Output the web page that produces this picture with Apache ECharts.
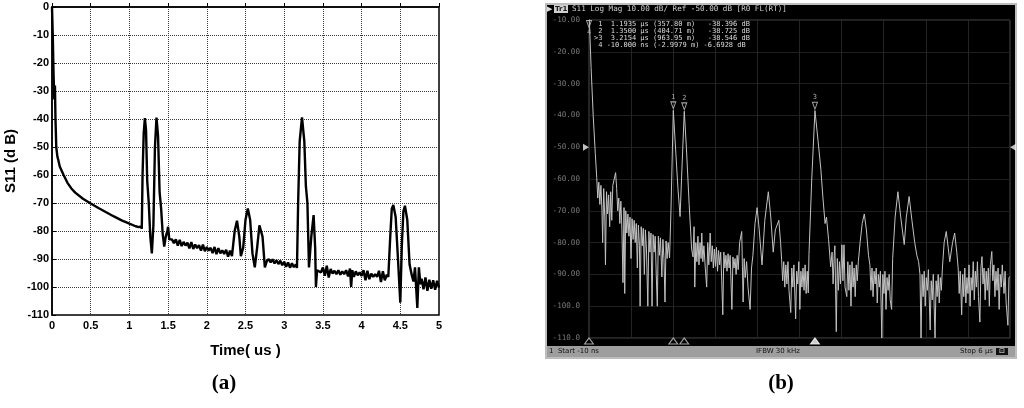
<!DOCTYPE html>
<html>
<head>
<meta charset="utf-8">
<title>S11 time domain</title>
<script src="https://cdn.jsdelivr.net/npm/echarts@6/dist/echarts.min.js"></script>
<style>
  html, body { margin: 0; padding: 0; background: #fff; }
  #chart { width: 1024px; height: 408px; }
</style>
</head>
<body>
<div id="chart"></div>
<script>
// (a) simulated S11, [time us, dB]
var simTrace = [
  [0, 0], [0.01, -10], [0.02, -24], [0.03, -33], [0.038, -28], [0.045, -40], [0.055, -50], [0.07, -53.5],
  [0.08, -54.5], [0.1, -57], [0.15, -60], [0.2, -62.8], [0.25, -64.8], [0.3, -66.3], [0.4, -68.5], [0.5, -70.2],
  [0.6, -71.8], [0.7, -73.3], [0.8, -74.8], [0.9, -76.2], [1.0, -77.4], [1.08, -78.3], [1.12, -78.6], [1.15, -78.4],
  [1.16, -79.2], [1.17, -60], [1.185, -45], [1.2, -39.7], [1.215, -44], [1.23, -62], [1.25, -70], [1.27, -82],
  [1.29, -88], [1.31, -78], [1.33, -50], [1.35, -39.5], [1.37, -46], [1.39, -66], [1.41, -72], [1.43, -81],
  [1.45, -85.6], [1.47, -82], [1.49, -80], [1.5, -78.5], [1.515, -83], [1.53, -83.5],
  [1.55, -83.0], [1.575, -84.4], [1.6, -83.0], [1.625, -85.2], [1.65, -83.2], [1.675, -85.4], [1.7, -83.9],
  [1.725, -85.2], [1.75, -84.2], [1.775, -86.2], [1.8, -84.0], [1.825, -86.4], [1.85, -84.8], [1.875, -86.1],
  [1.9, -85.1], [1.925, -87.0], [1.95, -84.9], [1.975, -87.2], [2.0, -85.7], [2.025, -87.0], [2.05, -86.0],
  [2.075, -87.9], [2.1, -85.7], [2.125, -88.3], [2.15, -86.1], [2.175, -88.0], [2.2, -86.9], [2.225, -88.2],
  [2.25, -86.7], [2.275, -89.2], [2.3, -87.0], [2.325, -89.0], [2.345, -88.4],
  [2.36, -80], [2.39, -76.3], [2.42, -82], [2.44, -89], [2.47, -86], [2.5, -76], [2.53, -72], [2.56, -76],
  [2.59, -88], [2.62, -93], [2.65, -86], [2.68, -78], [2.7, -77.3], [2.72, -82], [2.75, -93], [2.775, -90.8],
  [2.8, -90.0], [2.825, -91.2], [2.85, -90.1], [2.875, -91.6], [2.9, -90.5], [2.925, -91.8], [2.95, -90.6],
  [2.975, -92.2], [3.0, -91.0], [3.025, -92.8], [3.05, -91.2], [3.075, -93.1], [3.1, -91.5], [3.125, -92.9],
  [3.15, -92.0], [3.165, -93.2],
  [3.18, -70], [3.2, -48], [3.23, -39.4], [3.26, -48], [3.28, -64], [3.3, -70], [3.32, -93], [3.35, -82],
  [3.38, -74.3], [3.4, -86], [3.41, -100], [3.425, -94],
  [3.45, -93.6], [3.475, -94.8], [3.5, -93.0], [3.525, -96.0], [3.55, -92.4], [3.575, -96.6], [3.6, -93.6],
  [3.625, -95.2], [3.65, -94.2], [3.675, -95.4], [3.7, -94.0], [3.725, -95.6], [3.75, -94.4], [3.775, -95.4],
  [3.8, -94.0], [3.825, -96.2], [3.85, -93.4], [3.865, -100.0], [3.88, -94.0], [3.9, -96.4], [3.925, -94.4],
  [3.95, -95.8], [3.975, -94.8], [4.0, -96.0], [4.025, -94.0], [4.05, -97.6], [4.075, -94.2], [4.1, -97.2],
  [4.125, -95.2], [4.15, -96.4], [4.175, -95.4], [4.2, -96.4], [4.225, -94.2], [4.25, -98.2], [4.275, -94.4],
  [4.3, -97.6], [4.325, -95.6], [4.345, -96.4],
  [4.37, -82], [4.39, -72], [4.41, -70.7], [4.44, -75], [4.47, -90], [4.5, -105.6], [4.52, -85], [4.54, -73],
  [4.56, -71], [4.59, -76], [4.62, -92], [4.65, -96], [4.67, -98], [4.69, -93], [4.72, -107.5], [4.74, -93],
  [4.76, -99], [4.775, -97.0], [4.8, -100.8], [4.825, -96.6], [4.85, -101.4], [4.875, -97.4], [4.9, -100.6],
  [4.925, -97.6], [4.95, -101.0], [4.975, -97.8], [5.0, -100.2]
];

// (b) measured trace, [time us, dB]
var meaTrace = [
  [-0.01, -6.7], [0.02, -25], [0.05, -40], [0.08, -52], [0.1, -59.5],
  [0.115, -66], [0.13, -61], [0.145, -68], [0.16, -62], [0.175, -70], [0.185, -80], [0.2, -63], [0.215, -72],
  [0.225, -87], [0.24, -64], [0.255, -71], [0.27, -65], [0.285, -75], [0.3, -64], [0.315, -73], [0.33, -62],
  [0.35, -60], [0.37, -58], [0.385, -63], [0.4, -70], [0.415, -66], [0.43, -74], [0.445, -67], [0.46, -76],
  [0.475, -92.6], [0.49, -69], [0.5, -96], [0.515, -70], [0.53, -77], [0.545, -71], [0.56, -78], [0.575, -72],
  [0.59, -85], [0.605, -72.5], [0.62, -79], [0.635, -73], [0.65, -80], [0.665, -74], [0.68, -88], [0.695, -74.5],
  [0.71, -81], [0.72, -100], [0.735, -75], [0.75, -81], [0.765, -75.5], [0.78, -90], [0.795, -76], [0.81, -82],
  [0.83, -100], [0.845, -76.5], [0.86, -83], [0.875, -77], [0.89, -100], [0.905, -77.5], [0.92, -83], [0.935, -78],
  [0.95, -90], [0.965, -100], [0.98, -78], [0.995, -84], [1.01, -78.5], [1.03, -90.8], [1.045, -79], [1.06, -85],
  [1.075, -98.7], [1.09, -79.5], [1.105, -85], [1.12, -80], [1.14, -84.8],
  [1.16, -70], [1.1935, -38.4], [1.23, -52], [1.26, -63], [1.29, -71.8], [1.32, -55], [1.35, -38.7], [1.38, -50],
  [1.42, -68], [1.455, -82], [1.475, -84.5],
  [1.49, -75], [1.5, -94], [1.515, -80], [1.53, -86], [1.545, -78], [1.56, -87], [1.575, -80], [1.59, -85],
  [1.6, -77], [1.615, -86], [1.63, -81], [1.65, -88], [1.67, -94], [1.685, -80], [1.7, -87], [1.72, -77],
  [1.735, -86], [1.75, -81], [1.765, -88], [1.78, -82], [1.795, -87.5], [1.81, -81.5], [1.825, -89], [1.84, -82.5],
  [1.855, -87], [1.87, -83], [1.885, -92], [1.9, -102.7], [1.915, -83], [1.93, -88], [1.945, -84], [1.96, -89],
  [1.975, -83.5], [1.99, -88], [2.005, -84], [2.03, -101], [2.045, -84.5], [2.06, -88], [2.075, -85], [2.09, -90],
  [2.105, -84], [2.12, -88.5], [2.14, -80], [2.17, -76.5], [2.19, -98.7], [2.205, -85], [2.22, -91], [2.24, -86],
  [2.26, -94], [2.29, -101], [2.31, -88], [2.33, -84],
  [2.36, -74], [2.39, -69], [2.42, -76], [2.46, -87], [2.5, -73], [2.55, -64], [2.585, -72], [2.62, -83],
  [2.65, -76], [2.7, -73], [2.725, -80], [2.74, -85.4],
  [2.755, -92], [2.77, -86], [2.785, -94], [2.8, -87], [2.815, -93], [2.83, -86], [2.845, -95], [2.87, -102],
  [2.885, -88], [2.9, -94], [2.915, -87], [2.94, -104], [2.955, -89], [2.97, -93], [2.985, -86], [3.0, -101],
  [3.015, -89], [3.03, -94], [3.045, -88], [3.06, -95], [3.075, -87], [3.09, -96], [3.105, -89], [3.12, -95.8],
  [3.13, -83.8],
  [3.17, -60], [3.2154, -38.5], [3.26, -48], [3.3, -57], [3.33, -66], [3.36, -74], [3.38, -72], [3.41, -79],
  [3.44, -87.6],
  [3.46, -83], [3.475, -93], [3.49, -84], [3.5, -81], [3.52, -108], [3.535, -85], [3.55, -95], [3.565, -86],
  [3.58, -93], [3.6, -80.7], [3.615, -92], [3.63, -80.7], [3.645, -94], [3.67, -97], [3.685, -86], [3.7, -95],
  [3.715, -87], [3.73, -100], [3.745, -86], [3.76, -94], [3.775, -88], [3.79, -97], [3.805, -87], [3.82, -92],
  [3.835, -86],
  [3.86, -80], [3.89, -74], [3.92, -71], [3.95, -76], [3.98, -84], [4.0, -87],
  [4.015, -95], [4.03, -88], [4.045, -97], [4.06, -89], [4.075, -93], [4.09, -88], [4.105, -99], [4.12, -90],
  [4.135, -94], [4.15, -89], [4.17, -110], [4.185, -90], [4.2, -96], [4.215, -89], [4.23, -101], [4.245, -91],
  [4.26, -95], [4.275, -90], [4.29, -98], [4.31, -101], [4.325, -85],
  [4.36, -72], [4.4, -64], [4.44, -72], [4.49, -80.6], [4.52, -72], [4.56, -65.5], [4.6, -73], [4.64, -80],
  [4.67, -84], [4.695, -86], [4.715, -90],
  [4.73, -110], [4.745, -90], [4.76, -97], [4.775, -89], [4.79, -100], [4.805, -91], [4.82, -95], [4.835, -88.5],
  [4.86, -107.5], [4.875, -92], [4.89, -98], [4.905, -90], [4.93, -110], [4.945, -92], [4.96, -97], [4.975, -90],
  [4.99, -99], [5.005, -91], [5.02, -95], [5.035, -88],
  [5.06, -80], [5.09, -76.5], [5.12, -82], [5.14, -86], [5.18, -80], [5.21, -77], [5.24, -83], [5.26, -88],
  [5.275, -96], [5.29, -89], [5.31, -102.7], [5.325, -90], [5.34, -97], [5.355, -88], [5.37, -99], [5.385, -91],
  [5.4, -96], [5.415, -87], [5.43, -100], [5.445, -91], [5.46, -95], [5.475, -86], [5.49, -98], [5.505, -89],
  [5.52, -94], [5.535, -86], [5.55, -97], [5.57, -105], [5.585, -88], [5.6, -84.4], [5.615, -93], [5.63, -88],
  [5.645, -98], [5.66, -89], [5.675, -95], [5.69, -88], [5.705, -100], [5.72, -87], [5.74, -82.8], [5.755, -92],
  [5.77, -87], [5.785, -97], [5.8, -89], [5.815, -95], [5.83, -88], [5.845, -101], [5.86, -90], [5.875, -94],
  [5.89, -87], [5.9, -87], [5.915, -96], [5.93, -89], [5.945, -99], [5.97, -106], [5.985, -91], [6.0, -90.7]
];

// analyzer markers
var markerNo = ['1', '2', '3', '4'];
var markerTime = [1.1935, 1.35, 3.2154, -0.01];
var markerTimeText = ['1.1935 µs', '1.3500 µs', '3.2154 µs', '-10.000 ns'];
var markerDist = ['357.80 m', '404.71 m', '963.95 m', '-2.9979 m'];
var markerLevel = [-38.396, -38.725, -38.546, -6.6928];
var activeMarker = 2;
var refLevel = -50;

// analyzer settings text
var traceTitle = 'S11 Log Mag 10.00 dB/ Ref -50.00 dB [R0 FL(RT)]';
var startText = 'Start -10 ns';
var ifbwText = 'IFBW 30 kHz';
var stopText = 'Stop 6 µs';

var bMin = -110, bMax = -10;
var tMin = -0.01, tMax = 6;

var chart = echarts.init(document.getElementById('chart'));

// marker table lines
var tableLines = [];
for (var i = 0; i < markerNo.length; i++) {
    var t = markerTimeText[i];
    while (t.length < 10) t = ' ' + t;
    var d = '(' + markerDist[i] + ')';
    var sep = d.length > 10 ? ' ' : '   ';
    tableLines.push((i === activeMarker ? '>' : ' ') + markerNo[i] + ' ' + t + ' ' + d + sep +
        markerLevel[i].toPrecision(5) + ' dB');
}

// marker flags at the trace
var markerTop = [];
var markerBottom = [];
for (var j = 0; j < markerNo.length; j++) {
    var off = markerLevel[j] > bMax;
    markerTop.push({
        value: [markerTime[j], off ? bMax : markerLevel[j]],
        name: markerNo[j],
        symbolOffset: off ? [0, 4] : [0, -5],
        label: { position: off ? 'bottom' : 'top' }
    });
    markerBottom.push({
        value: [markerTime[j], bMin],
        itemStyle: j === activeMarker ? { color: '#fff', borderColor: '#fff' } : { color: '#000', borderColor: '#ccc' }
    });
}

var boldA = { color: '#000', fontWeight: 'bold', fontSize: 11, fontFamily: 'Liberation Sans' };
var mono = 'DejaVu Sans Mono';

var option = {
    backgroundColor: '#fff',
    animation: false,
    graphic: [
        // analyzer screen frame
        { type: 'rect', z: -10, shape: { x: 546, y: 4, width: 470, height: 354 },
          style: { fill: '#000', stroke: '#bdbdbd', lineWidth: 2 } },
        { type: 'rect', z: -9, shape: { x: 547, y: 346, width: 468, height: 11 },
          style: { fill: '#9e9e9e' } },
        { type: 'rect', z: -9, shape: { x: 554, y: 5, width: 14, height: 8 },
          style: { fill: '#cfcfcf' } },
        { type: 'rect', z: -9, shape: { x: 996, y: 348, width: 12, height: 7 },
          style: { fill: '#111' } },
        { type: 'text', z: 50, x: 547, y: 9, style: { text: '▶', font: '7px "DejaVu Sans"', fill: '#ddd', verticalAlign: 'middle' } },
        { type: 'text', z: 50, x: 555, y: 9, style: { text: 'Tr1', font: 'bold 7px "DejaVu Sans"', fill: '#222', verticalAlign: 'middle' } },
        { type: 'text', z: 50, x: 572, y: 9, style: { text: traceTitle, font: '7.6px "' + mono + '"', fill: '#cfcfcf', verticalAlign: 'middle' } },
        { type: 'text', z: 50, x: 594, y: 21, style: { text: tableLines.join('\n'), font: '7px "' + mono + '"', lineHeight: 6.8, fill: '#dcdcdc' } },
        { type: 'text', z: 50, x: 549, y: 351.5, style: { text: '1  ' + startText, font: '7px "DejaVu Sans"', fill: '#111', verticalAlign: 'middle' } },
        { type: 'text', z: 50, x: 778, y: 351.5, style: { text: ifbwText, font: '7px "DejaVu Sans"', fill: '#111', align: 'center', verticalAlign: 'middle' } },
        { type: 'text', z: 50, x: 993, y: 351.5, style: { text: stopText, font: '7px "DejaVu Sans"', fill: '#111', align: 'right', verticalAlign: 'middle' } },
        { type: 'text', z: 50, x: 1002, y: 351.5, style: { text: '⊡', font: '7px "DejaVu Sans"', fill: '#eee', align: 'center', verticalAlign: 'middle' } },
        // panel captions
        { type: 'text', z: 50, x: 224, y: 384, style: { text: '(a)', font: 'bold 21px "Liberation Serif"', fill: '#000', align: 'center', verticalAlign: 'middle' } },
        { type: 'text', z: 50, x: 781, y: 384, style: { text: '(b)', font: 'bold 21px "Liberation Serif"', fill: '#000', align: 'center', verticalAlign: 'middle' } }
    ],
    grid: [
        { left: 52, top: 7, width: 387, height: 308, show: true, borderColor: '#000', borderWidth: 1.5, backgroundColor: '#fff' },
        { left: 589, top: 20, width: 421, height: 318, show: true, borderColor: '#4a4a4a', borderWidth: 1, backgroundColor: 'transparent' }
    ],
    xAxis: [
        {
            gridIndex: 0, type: 'value', min: 0, max: 5, interval: 0.5,
            name: 'Time( us )', nameLocation: 'middle', nameGap: 28,
            nameTextStyle: { color: '#000', fontWeight: 'bold', fontSize: 15, fontFamily: 'Liberation Sans' },
            axisLine: { lineStyle: { color: '#000', width: 1.5 } },
            axisTick: { inside: true, length: 4, lineStyle: { color: '#000' } },
            axisLabel: Object.assign({ margin: 5, showMinLabel: true, showMaxLabel: true }, boldA),
            splitLine: { show: true, lineStyle: { color: '#3a3a3a', type: [1, 1], width: 1 } }
        },
        {
            gridIndex: 1, type: 'value', min: tMin, max: tMax, show: false
        },
        {
            gridIndex: 1, type: 'value', min: 0, max: 10, interval: 1,
            axisLine: { show: false }, axisTick: { show: false }, axisLabel: { show: false },
            splitLine: { show: true, lineStyle: { color: '#242424', width: 1 } }
        }
    ],
    yAxis: [
        {
            gridIndex: 0, type: 'value', min: -110, max: 0, interval: 10,
            name: 'S11 (d B)', nameLocation: 'middle', nameGap: 34, nameRotate: 90,
            nameTextStyle: { color: '#000', fontWeight: 'bold', fontSize: 15, fontFamily: 'Liberation Sans' },
            axisLine: { lineStyle: { color: '#000', width: 1.5 } },
            axisTick: { inside: true, length: 4, lineStyle: { color: '#000' } },
            axisLabel: Object.assign({ margin: 3 }, boldA),
            splitLine: { show: true, lineStyle: { color: '#3a3a3a', type: [1, 1], width: 1 } }
        },
        {
            gridIndex: 1, type: 'value', min: bMin, max: bMax, interval: 10,
            axisLine: { show: false }, axisTick: { show: false },
            axisLabel: {
                margin: 9, color: '#7a7a7a', fontSize: 7.6, fontFamily: mono,
                formatter: function (v) { return v.toPrecision(4); }
            },
            splitLine: { show: true, lineStyle: { color: '#1f1f1f', width: 1 } }
        }
    ],
    series: [
        {
            name: 'simulated', type: 'line', xAxisIndex: 0, yAxisIndex: 0,
            data: simTrace, showSymbol: false, silent: true,
            lineStyle: { color: '#000', width: 2.4 }
        },
        {
            name: 'measured', type: 'line', xAxisIndex: 1, yAxisIndex: 1,
            data: meaTrace, showSymbol: false, silent: true,
            lineStyle: { color: '#c2c2c2', width: 1 }
        },
        {
            name: 'markers', type: 'scatter', xAxisIndex: 1, yAxisIndex: 1, clip: false, silent: true,
            data: markerTop, symbol: 'triangle', symbolRotate: 180, symbolSize: [5, 7],
            itemStyle: { color: 'transparent', borderColor: '#d0d0d0', borderWidth: 1 },
            label: { show: true, formatter: '{b}', color: '#d0d0d0', fontSize: 7, fontFamily: mono, distance: 1 }
        },
        {
            name: 'marker feet', type: 'scatter', xAxisIndex: 1, yAxisIndex: 1, clip: false, silent: true,
            data: markerBottom, symbol: 'triangle', symbolSize: [9, 6], symbolOffset: [0, 3],
            itemStyle: { borderWidth: 1 }
        },
        {
            name: 'ref level', type: 'scatter', xAxisIndex: 1, yAxisIndex: 1, clip: false, silent: true,
            data: [
                { value: [tMin, refLevel], symbolRotate: -90, symbolOffset: [-3, 0] },
                { value: [tMax, refLevel], symbolRotate: 90, symbolOffset: [3, 0] }
            ],
            symbol: 'triangle', symbolSize: [7, 6],
            itemStyle: { color: '#f0f0f0' }
        }
    ]
};

chart.setOption(option);
</script>
</body>
</html>
